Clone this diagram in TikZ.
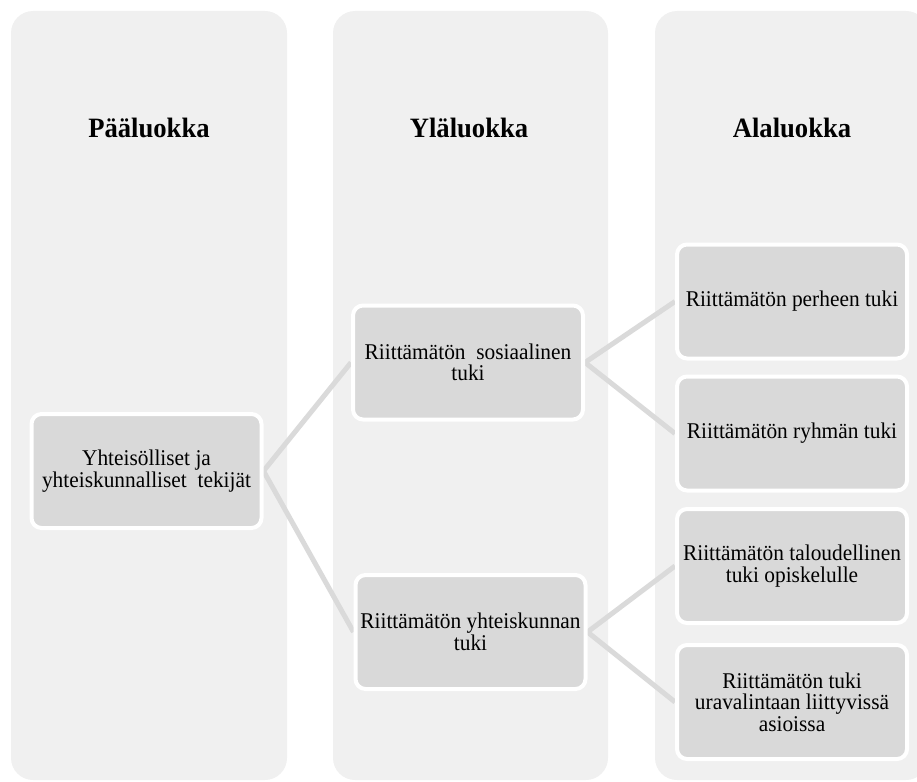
\documentclass[tikz,border=0pt]{standalone}
\usepackage{fontspec}
\setmainfont[FakeStretch=0.95]{Liberation Serif}
\pgfdeclarelayer{back}
\pgfdeclarelayer{mid}
\pgfsetlayers{back,mid,main}
\definecolor{colbg}{RGB}{240,240,240}
\definecolor{boxfill}{RGB}{217,217,217}
\definecolor{linkgray}{RGB}{218,218,218}
\begin{document}
\begin{tikzpicture}[x=1pt,y=-1pt,
  column/.style={fill=colbg, rounded corners=22pt},
  header/.style={anchor=base, font=\fontsize{28}{32}\selectfont\bfseries},
  cat/.style={draw=white, line width=4pt, fill=boxfill, rounded corners=10pt,
    minimum width=230pt, minimum height=114pt, align=center, inner sep=2pt,
    font=\fontsize{22.5}{21.5}\selectfont},
  link/.style={draw=linkgray, line width=5pt}]
\useasboundingbox (0,0) rectangle (917,781);

% column panels
\begin{pgfonlayer}{back}
  \fill[column] (11,11) rectangle (287,780);
  \fill[column] (333,11) rectangle (608,780);
  \fill[column] (655,11) rectangle (928,780);
\end{pgfonlayer}

% column headings
\node[header] (h1) at (149,137) {Pääluokka};
\node[header] (h2) at (469,137) {Yläluokka};
\node[header] (h3) at (792,137) {Alaluokka};

% category boxes
\node[cat] (top)  at (146.5,471) {Yhteisölliset ja\\yhteiskunnalliset\ \ tekijät};
\node[cat] (soc)  at (468,362.5) {Riittämätön\ \ sosiaalinen\\tuki};
\node[cat] (comm) at (470.5,632) {Riittämätön yhteiskunnan\\tuki};
\node[cat] (fam)  at (792,301.5) {Riittämätön perheen tuki};
\node[cat] (grp)  at (792,433.5) {Riittämätön ryhmän tuki};
\node[cat] (eco)  at (792,566) {Riittämätön taloudellinen\\tuki opiskelulle};
\node[cat] (car)  at (792,702) {Riittämätön tuki\\uravalintaan liittyvissä\\asioissa};

% connectors between levels
\begin{pgfonlayer}{mid}
  \draw[link] (top.east) -- (soc.west);
  \draw[link] (top.east) -- (comm.west);
  \draw[link] (soc.east) -- (fam.west);
  \draw[link] (soc.east) -- (grp.west);
  \draw[link] (comm.east) -- (eco.west);
  \draw[link] (comm.east) -- (car.west);
\end{pgfonlayer}
\end{tikzpicture}
\end{document}
